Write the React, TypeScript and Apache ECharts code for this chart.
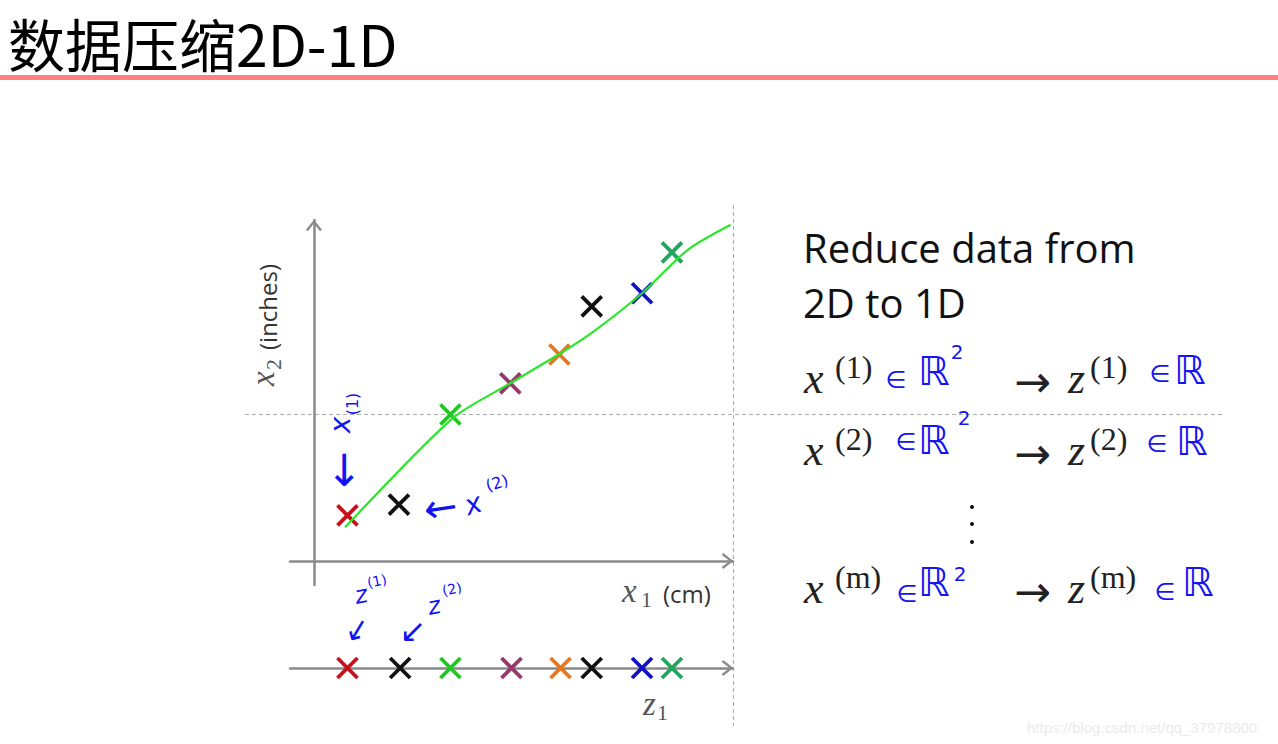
import React, { useEffect, useRef } from 'react';
import * as echarts from 'echarts';

// ---- data ----
const X1_CM = [1.4, 3.55, 5.7, 8.2, 10.25, 11.6, 13.7, 14.95];
const X2_IN = [1.9, 2.35, 6.1, 7.4, 8.6, 10.6, 11.15, 12.85];
const Z1 = [1.4, 3.6, 5.7, 8.25, 10.3, 11.6, 13.7, 14.95];
const FIT_X1 = [1.3, 5.8, 8.2, 10.3, 11.6, 13.7, 15.6, 17.4];
const FIT_X2 = [1.4, 5.95, 7.4, 8.65, 9.5, 11.15, 12.95, 14.0];
const ROW_SUPS = ['(1)', '(2)', '(m)'];

const TITLE = '数据压缩2D-1D';
const HEADLINE = ['Reduce data from', '2D to 1D'];
const WATERMARK = 'https://blog.csdn.net/qq_37978800';

// ---- styles ----
const POINT_COLORS = ['#c3121b', '#111111', '#22c622', '#97386b', '#e8761e', '#111111', '#1010c8', '#1ea65e'];
const AXIS_GRAY = '#8a8a8a';
const BLUE = '#1414f0';
const MATH = '#222222';
const SERIF = '"Liberation Serif", "DejaVu Serif", serif';
const SANS = '"Open Sans", "Noto Sans", sans-serif';
const HAND = '"DejaVu Sans", sans-serif';
const CJK = '"Noto Sans CJK SC", sans-serif';
const CHEVRON = 'path://M0,10 L8,0 L16,10 L14,11.5 L8,3.6 L2,11.5 Z';
const XMARK = 'path://M0,0 L20,20 M20,0 L0,20';

type Opts = { italic?: boolean; rotation?: number; align?: string };

function tc(text: string, x: number, y: number, size: number, family: string, fill: string, o: Opts = {}) {
  return {
    type: 'text',
    x,
    y,
    rotation: o.rotation || 0,
    silent: true,
    style: {
      text,
      fill,
      fontSize: size,
      fontFamily: family,
      fontStyle: o.italic ? 'italic' : 'normal',
      align: o.align || 'left',
      verticalAlign: 'middle',
    },
  };
}
// baseline-positioned helpers
const serifB = (text: string, x: number, base: number, size: number, fill: string, o: Opts = {}) =>
  tc(text, x, base - 0.3375 * size, size, SERIF, fill, o);
const sansB = (text: string, x: number, base: number, size: number, fill: string, o: Opts = {}) =>
  tc(text, x, base - 0.388 * size, size, SANS, fill, o);

function buildGraphics() {
  const g: any[] = [];
  // title + rule
  g.push(tc(TITLE, 8, 42, 57, CJK, '#000'));
  g.push({ type: 'rect', silent: true, shape: { x: 0, y: 75, width: 1278, height: 5 }, style: { fill: '#ff8080' } });

  // dashed guides
  g.push({ type: 'line', silent: true, shape: { x1: 245, y1: 414.5, x2: 1225, y2: 414.5 }, style: { stroke: '#ababab', lineWidth: 1, lineDash: [4, 3] } });
  g.push({ type: 'line', silent: true, shape: { x1: 733.5, y1: 205, x2: 733.5, y2: 726 }, style: { stroke: '#ababab', lineWidth: 1, lineDash: [4, 3] } });

  // axis labels
  g.push({
    type: 'group', x: 274, y: 386, rotation: Math.PI / 2, silent: true,
    children: [
      tc('x', 0, -0.3375 * 33, 33, SERIF, '#555', { italic: true }),
      tc('2', 16, 7 - 0.3375 * 22, 22, SERIF, '#555'),
      tc('(inches)', 36, 3 - 0.388 * 24, 24, SANS, '#333'),
    ],
  });
  g.push(serifB('x', 622, 602, 33, '#555', { italic: true }));
  g.push(serifB('1', 641, 607, 22, '#555'));
  g.push(sansB('(cm)', 663, 603, 24, '#333'));
  g.push(serifB('z', 643, 715, 33, '#555', { italic: true }));
  g.push(serifB('1', 657, 720, 22, '#555'));

  // headline
  g.push(sansB(HEADLINE[0], 803, 263, 40, '#111'));
  g.push(sansB(HEADLINE[1], 803, 318, 40, '#111'));

  // mapping rows
  const bases = [393, 465, 603];
  bases.forEach((b, i) => {
    g.push(serifB('x', 804, b, 44, MATH, { italic: true }));
    g.push(serifB(ROW_SUPS[i], 835, b - 15, 32, MATH));
    g.push(tc('→', 1014, b - 12, 44, HAND, MATH));
    g.push(serifB('z', 1068, b, 44, MATH, { italic: true }));
    g.push(serifB(ROW_SUPS[i], 1090, b - 15, 32, MATH));
  });
  // vertical dots
  [507, 524, 542].forEach((y) => g.push({ type: 'circle', silent: true, shape: { cx: 972, cy: y, r: 2 }, style: { fill: '#111' } }));

  // handwritten blue "∈ℝ²" / "∈ℝ"
  const hw = [
    { e: [896, 380], r: [918, 371], two: [957, 352] },
    { e: [906, 442], r: [918, 440], two: [964, 418] },
    { e: [907, 594], r: [918, 582], two: [960, 574] },
  ];
  hw.forEach((h) => {
    g.push(tc('∈', h.e[0], h.e[1], 24, HAND, BLUE, { align: 'center' }));
    g.push(tc('ℝ', h.r[0], h.r[1], 40, HAND, BLUE));
    g.push(tc('2', h.two[0], h.two[1], 20, HAND, BLUE, { align: 'center' }));
  });
  const hw2 = [
    { e: [1160, 374], r: [1174, 370] },
    { e: [1157, 444], r: [1176, 441] },
    { e: [1165, 592], r: [1182, 582] },
  ];
  hw2.forEach((h) => {
    g.push(tc('∈', h.e[0], h.e[1], 24, HAND, BLUE, { align: 'center' }));
    g.push(tc('ℝ', h.r[0], h.r[1], 40, HAND, BLUE));
  });

  // handwritten annotations in the plot
  g.push({
    type: 'group', x: 342, y: 488, rotation: Math.PI / 2, silent: true,
    children: [
      tc('←', 0, 0, 44, HAND, BLUE),
      tc('x', 63, -2, 28, HAND, BLUE, { italic: true, align: 'center' }),
      tc('(1)', 84, 10, 16, HAND, BLUE, { align: 'center' }),
    ],
  });
  g.push(tc('←', 424, 510, 40, HAND, BLUE, { rotation: 0.15 }));
  g.push(tc('x', 473, 504, 28, HAND, BLUE, { italic: true, align: 'center', rotation: 0.3 }));
  g.push(tc('(2)', 497, 483, 16, HAND, BLUE, { align: 'center', rotation: 0.3 }));

  g.push(tc('z', 361, 595, 24, HAND, BLUE, { italic: true, align: 'center', rotation: 0.2 }));
  g.push(tc('(1)', 377, 581, 14, HAND, BLUE, { align: 'center', rotation: 0.2 }));
  g.push(tc('↙', 357, 629, 30, HAND, BLUE, { align: 'center', rotation: 0.25 }));
  g.push(tc('z', 434, 606, 24, HAND, BLUE, { italic: true, align: 'center', rotation: 0.2 }));
  g.push(tc('(2)', 452, 589, 14, HAND, BLUE, { align: 'center', rotation: 0.2 }));
  g.push(tc('↙', 413, 631, 32, HAND, BLUE, { align: 'center' }));

  // watermark
  g.push(tc(WATERMARK, 1027, 727, 15, '"Liberation Sans", sans-serif', '#ebebeb'));
  return g;
}

export default function App() {
  const ref = useRef<HTMLDivElement>(null);
  useEffect(() => {
    if (!ref.current) return;
    const chart = echarts.init(ref.current, undefined, { renderer: 'svg' });
    const axisLine = (onZero: boolean) => ({
      show: true,
      onZero,
      symbol: ['none', CHEVRON],
      symbolSize: [16, 11.5],
      symbolOffset: [0, -5.5],
      lineStyle: { color: AXIS_GRAY, width: 2.5 },
    });
    const bare = { axisTick: { show: false }, axisLabel: { show: false }, splitLine: { show: false } };
    const markStyle = { color: 'rgba(0,0,0,0)', borderWidth: 3.8, opacity: 1 };
    chart.setOption({
      animation: false,
      backgroundColor: '#ffffff',
      grid: [
        { left: 290, top: 220, width: 443, height: 365 },
        { left: 290, top: 644, width: 443, height: 24 },
      ],
      xAxis: [
        { gridIndex: 0, type: 'value', min: -1, max: 17.5, axisLine: axisLine(true), ...bare },
        { gridIndex: 1, type: 'value', min: -1, max: 17.5, axisLine: axisLine(false), ...bare },
      ],
      yAxis: [
        { gridIndex: 0, type: 'value', min: -1, max: 14.2, axisLine: axisLine(true), ...bare },
        { gridIndex: 1, type: 'value', min: 0, max: 1, show: false },
      ],
      series: [
        {
          type: 'scatter', xAxisIndex: 0, yAxisIndex: 0, symbol: XMARK, symbolSize: 20, z: 3,
          itemStyle: markStyle,
          data: X1_CM.map((x, i) => ({ value: [x, X2_IN[i]], itemStyle: { borderColor: POINT_COLORS[i] } })),
        },
        {
          type: 'line', xAxisIndex: 0, yAxisIndex: 0, showSymbol: false, symbol: 'none', z: 5, silent: true,
          smooth: 0.25,
          lineStyle: { color: '#2be62b', width: 2.2 },
          data: FIT_X1.map((x, i) => [x, FIT_X2[i]]),
        },
        {
          type: 'scatter', xAxisIndex: 1, yAxisIndex: 1, symbol: XMARK, symbolSize: 20, z: 3,
          itemStyle: markStyle,
          data: Z1.map((z, i) => ({ value: [z, 0], itemStyle: { borderColor: POINT_COLORS[i] } })),
        },
      ],
      graphic: buildGraphics(),
    });
    return () => chart.dispose();
  }, []);
  return <div ref={ref} style={{ position: 'fixed', left: 0, top: 0, width: 1278, height: 744, background: '#fff' }} />;
}
